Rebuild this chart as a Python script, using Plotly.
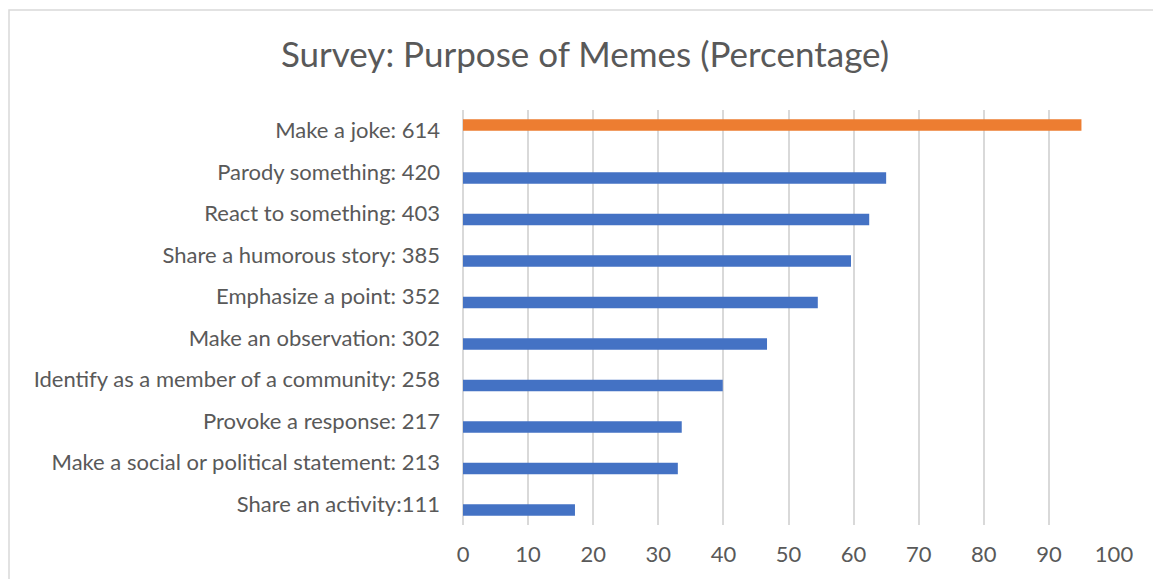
import plotly.graph_objects as go

categories = [
    "Make a joke: 614",
    "Parody something: 420",
    "React to something: 403",
    "Share a humorous story: 385",
    "Emphasize a point: 352",
    "Make an observation: 302",
    "Identify as a member of a community: 258",
    "Provoke a response: 217",
    "Make a social or political statement: 213",
    "Share an activity:111",
]
highlight_values = [95.0, None, None, None, None, None, None, None, None, None]
other_values = [None, 65.0, 62.4, 59.6, 54.5, 46.7, 39.9, 33.6, 33.0, 17.2]
x_ticks = [0, 10, 20, 30, 40, 50, 60, 70, 80, 90, 100]

W, H = 1153, 579
L, R, T, B = 463, 1114, 110, 525

FONT = "Lato"
TXT = "#595959"

fig = go.Figure()
fig.add_trace(go.Bar(y=categories, x=highlight_values, orientation="h",
                     marker=dict(color="#ED7D31", line=dict(width=0)), showlegend=False))
fig.add_trace(go.Bar(y=categories, x=other_values, orientation="h",
                     marker=dict(color="#4472C4", line=dict(width=0)), showlegend=False))

def px_x(px):
    return (px - L) / (R - L)

def px_y(py):
    return (B - py) / (B - T)

fig.update_layout(
    width=W, height=H,
    margin=dict(l=L, r=W - R, t=T, b=H - B, pad=0),
    paper_bgcolor="white", plot_bgcolor="white",
    barmode="group", bargap=0.45, bargroupgap=0,
    font=dict(family=FONT, color=TXT, size=22),
    title=dict(text="Survey: Purpose of Memes (Percentage)",
               x=585 / W, xanchor="center", xref="container",
               y=1 - 55 / H, yanchor="middle", yref="container",
               font=dict(family=FONT, size=35, color=TXT)),
    xaxis=dict(range=[0, 100], tickvals=x_ticks, showgrid=True, gridcolor="#d9d9d9",
               gridwidth=1.5, zeroline=True, zerolinecolor="#d9d9d9", zerolinewidth=1.5,
               showline=False, ticks="", ticklabelstandoff=14,
               tickfont=dict(family=FONT, size=22, color=TXT), fixedrange=True),
    yaxis=dict(type="category", categoryorder="array", categoryarray=categories,
               autorange="reversed", showgrid=False, zeroline=False, showline=False,
               ticks="", ticklabelstandoff=22,
               tickfont=dict(family=FONT, size=22, color=TXT)),
    shapes=[dict(type="rect", xref="paper", yref="paper",
                 x0=px_x(9), x1=px_x(1200), y0=px_y(640), y1=px_y(10),
                 line=dict(color="#d9d9d9", width=1.5), fillcolor="rgba(0,0,0,0)",
                 layer="below")],
)

fig.write_html("out.html")
